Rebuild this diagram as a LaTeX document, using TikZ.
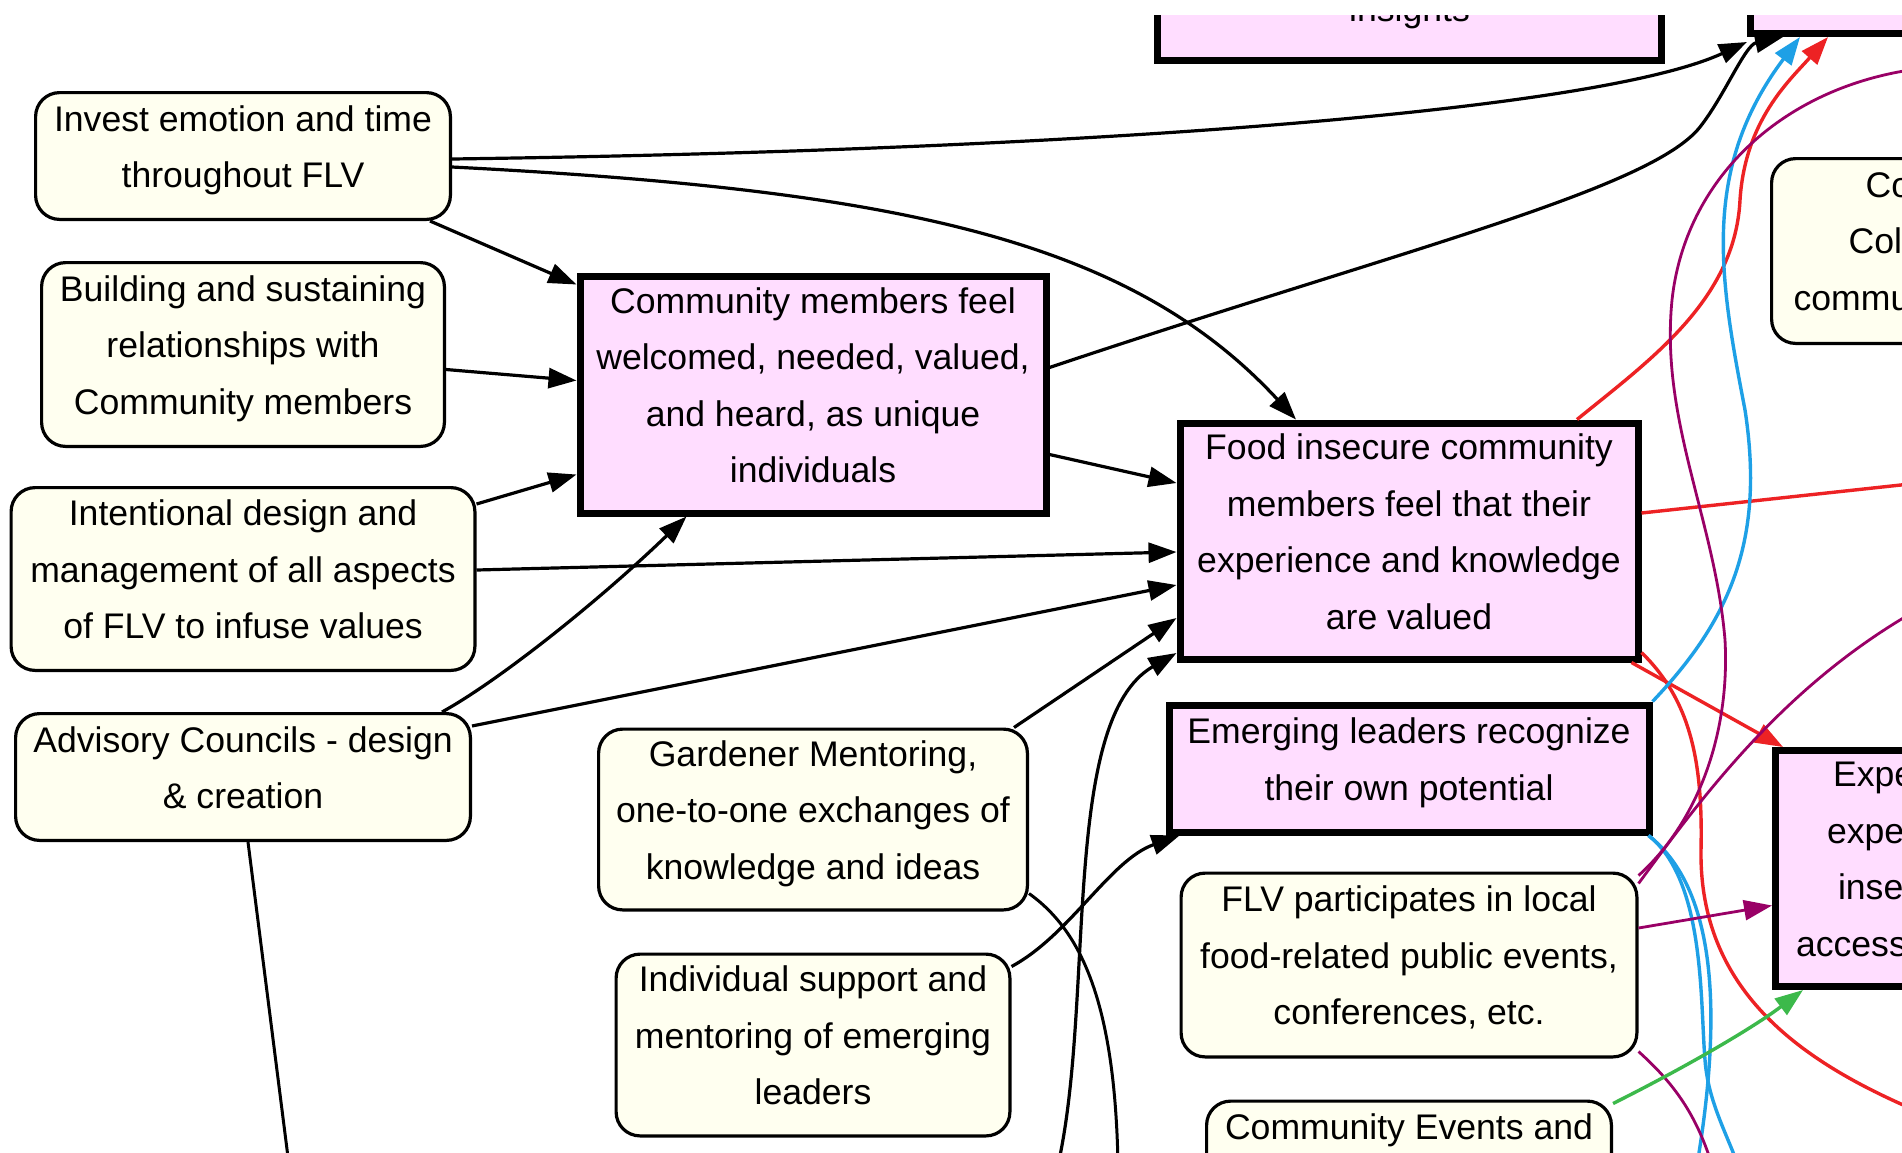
\documentclass[tikz,border=0pt]{standalone}
\usepackage{fontspec}
\setmainfont{Liberation Sans}
\usetikzlibrary{positioning,arrows.meta}

\definecolor{resultfill}{RGB}{255,221,255}
\definecolor{actionfill}{RGB}{255,255,240}
\definecolor{linkred}{RGB}{237,34,36}
\definecolor{linkblue}{RGB}{30,160,230}
\definecolor{linkpurple}{RGB}{153,0,102}
\definecolor{linkgreen}{RGB}{60,185,75}

\tikzset{
  diagbox/.style={align=center, inner sep=0pt, font=\fontsize{35.6}{56.5}\selectfont,
    execute at end node={\rule[-19pt]{0pt}{19pt}}},
  action/.style={diagbox, draw, fill=actionfill, line width=3.2pt, rounded corners=24pt},
  result/.style={diagbox, draw, fill=resultfill, line width=7pt},
  link/.style={line width=3.2pt, -{Triangle[length=28pt,width=20pt]}},
  strand/.style={line width=3pt},
}

\begin{document}
\begin{tikzpicture}[x=1pt,y=-1pt]
  \path[use as bounding box, fill=white] (0,0) rectangle (1902,1152);
  \clip (0,15) rectangle (1902,1152);

  \node[action, minimum width=414.8pt, minimum height=126.8pt] (invest) at (243,156) {Invest emotion and time\\throughout FLV};
  \node[action, minimum width=402.8pt, minimum height=183.8pt, below=40pt of invest] (relations) {Building and sustaining\\relationships with\\Community members};
  \node[action, minimum width=463.8pt, minimum height=182.8pt, below=38pt of relations] (design) {Intentional design and\\management of all aspects\\of FLV to infuse values};
  \node[action, minimum width=454.8pt, minimum height=126.8pt, below=40pt of design] (councils) {Advisory Councils - design\\\& creation};

  \node[result, minimum width=466pt, minimum height=237pt] (welcomed) at (813,394.5) {Community members feel\\welcomed, needed, valued,\\and heard, as unique\\individuals};
  \node[action, minimum width=428.8pt, minimum height=180.8pt, below=211pt of welcomed] (mentoring) {Gardener Mentoring,\\one-to-one exchanges of\\knowledge and ideas};
  \node[action, minimum width=393.8pt, minimum height=181.8pt, below=41pt of mentoring] (support) {Individual support and\\mentoring of emerging\\leaders};

  \node[result, minimum width=504pt, minimum height=84pt] (insights) at (1409.5,18.5) {insights};
  \node[result, minimum width=458pt, minimum height=236pt] (valued) at (1409,541) {Food insecure community\\members feel that their\\experience and knowledge\\are valued};
  \node[result, minimum width=480pt, minimum height=127pt, below=39pt of valued] (leaders) {Emerging leaders recognize\\their own potential};
  \node[action, minimum width=455.8pt, minimum height=183.8pt, below=36pt of leaders] (participates) {FLV participates in local\\food-related public events,\\conferences, etc.};
  \node[action, minimum width=404.8pt, minimum height=183.8pt, below=41pt of participates] (events) {Community Events and\\\mbox{}\\\mbox{}};

  \node[result, anchor=south west, minimum width=500pt, minimum height=100pt] (outcome) at (1747,37) {};
  \node[action, anchor=north west, minimum width=430pt, minimum height=184.8pt, align=left, text width=386pt] (collab) at (1770,157) {\hspace*{72pt}Co\\\hspace*{55pt}Col\\commu};
  \node[result, anchor=north west, minimum width=458pt, minimum height=236pt, align=left, text width=417pt] (experience) at (1772,747) {\hspace*{37pt}Expe\\\hspace*{31pt}expe\\\hspace*{42pt}inse\\access};

  \coordinate (councilsout) at (289,1165);
  \coordinate (mentoringout) at (1118,1165);
  \coordinate (valuedin) at (1058,1165);
  \coordinate (redright) at (1910,484);
  \coordinate (redlow) at (1910,1108);
  \coordinate (blueouta) at (1697,1165);
  \coordinate (blueoutb) at (1738,1165);
  \coordinate (purpletop) at (1910,70);
  \coordinate (purpleright) at (1910,614);
  \coordinate (purplelow) at (1712,1165);

  \draw[link] ([yshift=-3pt]invest.east) .. controls (1100,150) and (1600,110) .. ([yshift=-5pt]outcome.south west);
  \draw[link] ([yshift=-11pt]invest.east) .. controls (900,190) and (1130,240) .. ([xshift=-113pt]valued.north);
  \draw[link] ([xshift=-22pt]invest.south east) -- ([yshift=-12pt]welcomed.north west);
  \draw[link] ([yshift=-15pt]relations.east) -- ([yshift=14pt]welcomed.west);
  \draw[link] ([yshift=-18pt]design.north east) -- ([yshift=-80pt]welcomed.west);
  \draw[link] ([yshift=9pt]design.east) -- ([yshift=-11pt]valued.west);
  \draw[link] ([xshift=-30pt]councils.north east) .. controls (500,680) and (600,600) .. ([xshift=110pt]welcomed.south west);
  \draw[link] ([yshift=-14pt]councils.north east) -- ([yshift=-44pt]valued.west);
  \draw[strand] ([xshift=5pt]councils.south) -- (councilsout);
  \draw[link] ([yshift=-60pt]welcomed.east) -- ([yshift=58pt]valued.west);
  \draw[link] ([yshift=27pt]welcomed.east) .. controls (1400,250) and (1650,190) .. (1700,127)
    .. controls (1725,95) and (1745,45) .. ([xshift=36pt]outcome.south west);
  \draw[link] ([xshift=-15pt]mentoring.north east) -- ([yshift=-77pt]valued.west);
  \draw[strand] ([yshift=18pt]mentoring.south east) .. controls (1080,930) and (1115,1000) .. (mentoringout);
  \draw[link] (valuedin) .. controls (1095,1000) and (1060,720) .. ([yshift=-112pt]valued.west);
  \draw[link] ([yshift=-14pt]support.north east) .. controls (1070,935) and (1110,860) .. ([xshift=14pt]leaders.south west);

  \draw[link, linkred, line width=3.4pt] ([xshift=168pt]valued.north) .. controls (1650,360) and (1735,300) .. (1740,200)
    .. controls (1745,120) and (1790,80) .. ([xshift=81pt]outcome.south west);
  \draw[strand, linkred, line width=3.4pt] ([yshift=28pt]valued.east) -- (redright);
  \draw[link, linkred, line width=3.4pt] ([xshift=-10pt]valued.south east) -- ([xshift=11pt]experience.north west);
  \draw[strand, linkred, line width=3.4pt] ([yshift=10pt]valued.south east) .. controls (1690,700) and (1703,760) .. (1701,850)
    .. controls (1699,990) and (1800,1060) .. (redlow);

  \draw[link, linkblue, line width=3.4pt] (leaders.north east) .. controls (1730,620) and (1765,540) .. (1745,410)
    .. controls (1720,280) and (1700,170) .. ([xshift=53pt]outcome.south west);
  \draw[strand, linkblue, line width=3.4pt] ([xshift=-4pt]leaders.south east) .. controls (1705,880) and (1728,980) .. (blueouta);
  \draw[strand, linkblue, line width=3.4pt] ([xshift=-4pt]leaders.south east) .. controls (1705,880) and (1700,1000) .. (1705,1060)
    .. controls (1708,1100) and (1725,1130) .. (blueoutb);

  \draw[strand, linkpurple, line width=2.8pt] ([yshift=-4pt]participates.north east) .. controls (1700,820) and (1730,730) .. (1725,640)
    .. controls (1715,520) and (1660,420) .. (1672,300) .. controls (1685,180) and (1780,90) .. (purpletop);
  \draw[strand, linkpurple, line width=2.8pt] ([yshift=-12pt]participates.north east) .. controls (1700,800) and (1780,690) .. (purpleright);
  \draw[link, linkpurple, line width=2.8pt] ([yshift=37pt]participates.east) -- ([yshift=-37pt]experience.west);
  \draw[strand, linkpurple, line width=2.8pt] ([yshift=7pt]participates.south east) .. controls (1670,1080) and (1695,1110) .. (purplelow);

  \draw[link, linkgreen, line width=3.4pt] ([yshift=-4pt]events.north east) .. controls (1680,1070) and (1750,1030) .. ([xshift=31pt]experience.south west);
\end{tikzpicture}
\end{document}
